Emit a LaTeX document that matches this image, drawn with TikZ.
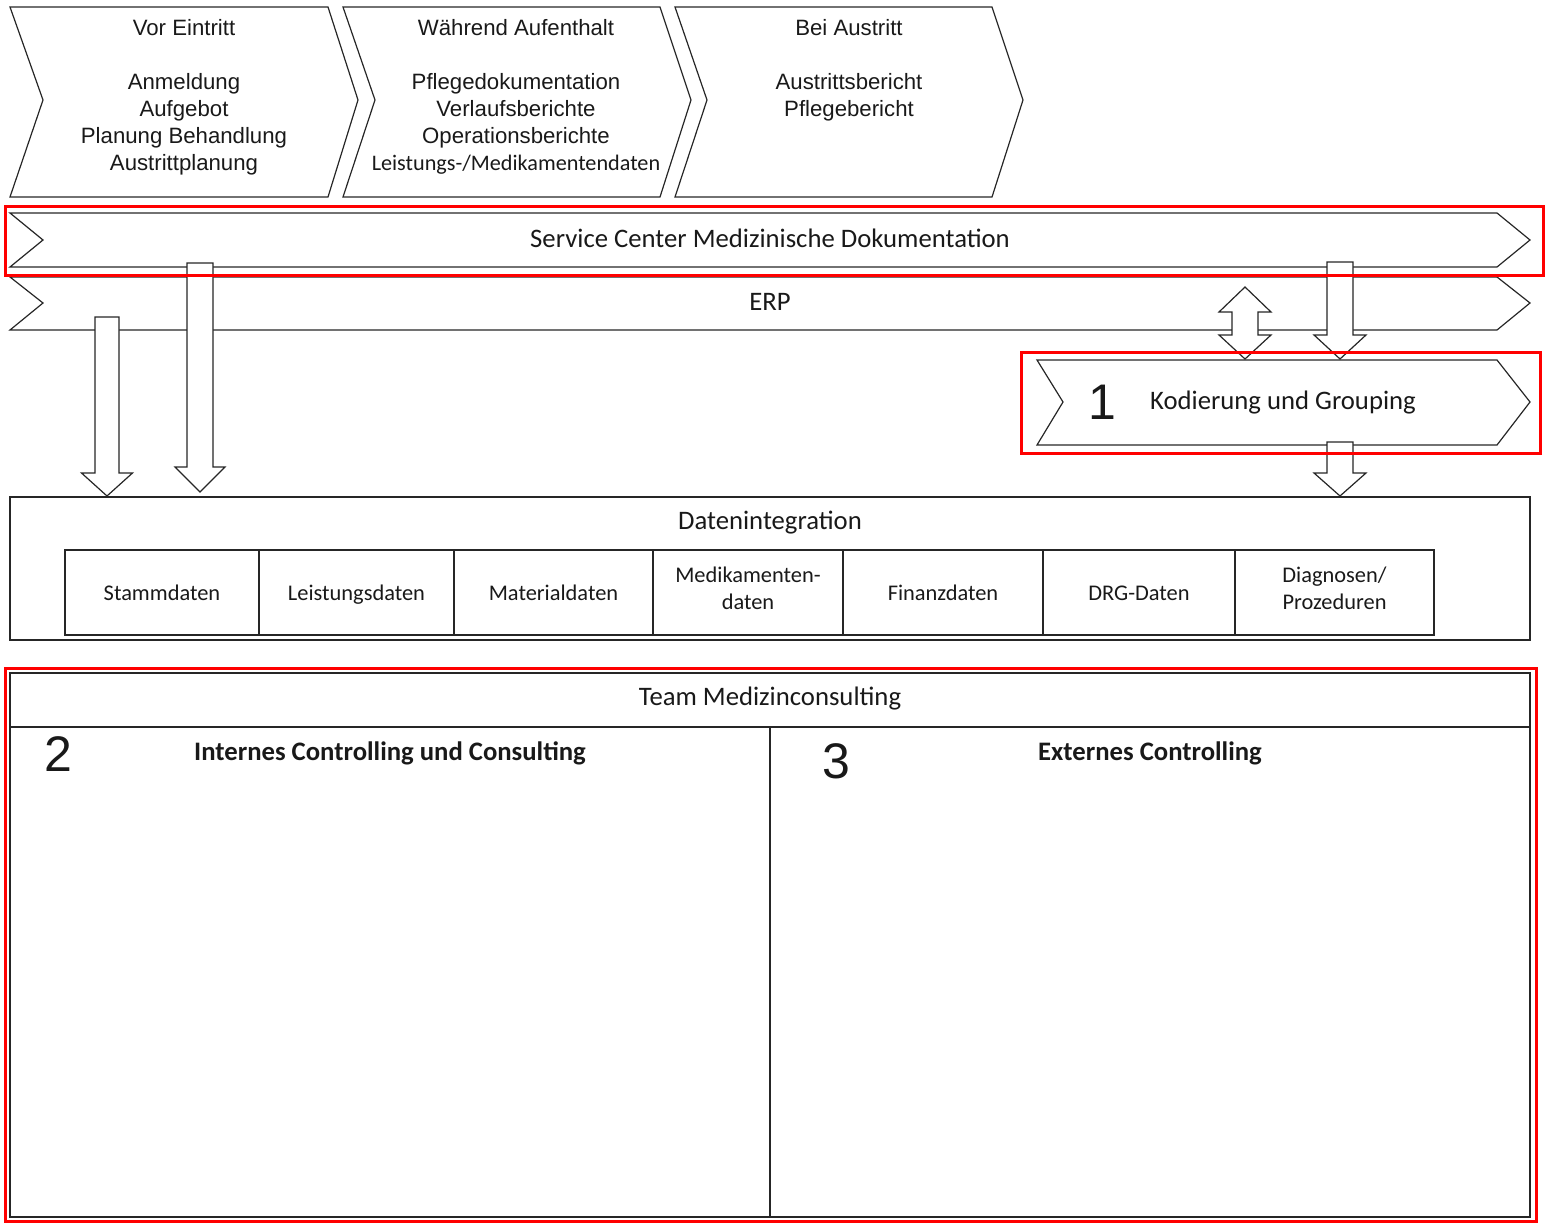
\documentclass[tikz,border=0pt]{standalone}
\usepackage{fontspec}
\setmainfont{Liberation Sans}
\newfontfamily\calibri{Carlito}
% down arrow: centre x, shaft half width, head half width, top, head base, tip
\newcommand{\blockdown}[6]{%
  \draw[fat] (#1-#2,#4) -- (#1+#2,#4) -- (#1+#2,#5) -- (#1+#3,#5) -- (#1,#6)
    -- (#1-#3,#5) -- (#1-#2,#5) -- cycle;}
\begin{document}
\begin{tikzpicture}[x=1pt,y=-1pt,
    line width=1.2pt, draw=black!85,
    every node/.style={inner sep=0pt, align=center, text=black!90},
    phase/.style={anchor=north, font=\fontsize{22.2}{27}\selectfont},
    band/.style={font=\calibri\fontsize{26.7}{32}\selectfont},
    headline/.style={font=\calibri\bfseries\fontsize{26.7}{32}\selectfont},
    cell/.style={draw, minimum height=85pt, font=\calibri\fontsize{22.4}{27}\selectfont,
      execute at begin node={\rule[-8.1pt]{0pt}{33pt}}, execute at end node=\strut},
    bignum/.style={font=\fontsize{50}{50}\selectfont},
    fat/.style={draw, fill=white},
    redframe/.style={draw=red, line width=3pt}]
  \useasboundingbox (0,0) rectangle (1545,1223);

  % phases
  \draw (10,7) -- (328,7) -- (358,100) -- (328,197) -- (10,197) -- (43,100) -- cycle;
  \draw (343,7) -- (660,7) -- (691,100) -- (660,197) -- (343,197) -- (375,100) -- cycle;
  \draw (675,7) -- (992,7) -- (1023,100) -- (992,197) -- (675,197) -- (707,100) -- cycle;
  \node[phase] (vor) at (184,19)
    {Vor Eintritt\\[27pt]Anmeldung\\Aufgebot\\Planung Behandlung\\Austrittplanung};
  \node[phase] (waehrend) at (516,19)
    {Während Aufenthalt\\[27pt]Pflegedokumentation\\Verlaufsberichte\\Operationsberichte\\
     {\calibri Leistungs-/Medikamentendaten}};
  \node[phase] (bei) at (849,19)
    {Bei Austritt\\[27pt]Austrittsbericht\\Pflegebericht};

  % bands
  \draw (10,277) -- (1497,277) -- (1530,303) -- (1497,330) -- (10,330) -- (43,303) -- cycle;
  \draw (10,213) -- (1497,213) -- (1530,240) -- (1497,267) -- (10,267) -- (43,240) -- cycle;
  \node[band] (scmd) at (770,238) {Service Center Medizinische Dokumentation};
  \node[band] (erp) at (770,302) {ERP};

  % coding
  \draw (1037,360) -- (1497,360) -- (1530,402) -- (1497,445) -- (1037,445) -- (1063,402) -- cycle;
  \node[bignum] (eins) at (1102,402) {1};
  \node[band] (kodierung) at (1283,403) {Kodierung und Grouping};

  % block arrows
  \blockdown{107}{12}{25.5}{317}{473}{496}
  \blockdown{200}{13}{25}{263}{467}{492}
  \blockdown{1340}{13}{26}{262}{335}{359}
  \blockdown{1340}{13}{26}{442}{473}{496}
  \draw[fat] (1245,287) -- (1271,312) -- (1258,312) -- (1258,335) -- (1271,335) -- (1245,359)
    -- (1219,335) -- (1232,335) -- (1232,312) -- (1219,312) -- cycle;

  % data integration
  \draw (10,497) rectangle (1530,640);
  \node[band] (daten) at (770,523) {Datenintegration};
  \foreach \xa/\xb/\txt/\name in {65/259/Stammdaten/stamm, 259/454/Leistungsdaten/leistung,
      454/653/Materialdaten/material, 653/843/{Medikamenten-\\daten}/medi,
      843/1043/Finanzdaten/finanz, 1043/1235/DRG-Daten/drg, 1235/1434/{Diagnosen/\\Prozeduren}/diag}
    \node[cell, minimum width={\xb-\xa}] (\name) at ({(\xa+\xb)/2},592.5) {\txt};

  % team
  \draw[line width=1.6pt] (10,673) rectangle (1530,1217);
  \draw[line width=1.6pt] (10,727) -- (1530,727);
  \draw[line width=1.6pt] (770,727) -- (770,1217);
  \node[band] (team) at (770,699) {Team Medizinconsulting};
  \node[bignum] (zwei) at (58,754) {2};
  \node[headline] (intern) at (390,753) {Internes Controlling und Consulting};
  \node[bignum] (drei) at (836,761) {3};
  \node[headline] (extern) at (1150,753) {Externes Controlling};

  % highlights
  \draw[redframe] (5,206) rectangle (1543,275);
  \draw[redframe] (1021,352) rectangle (1540,453);
  \draw[redframe] (5,668) rectangle (1536,1221);
\end{tikzpicture}
\end{document}
